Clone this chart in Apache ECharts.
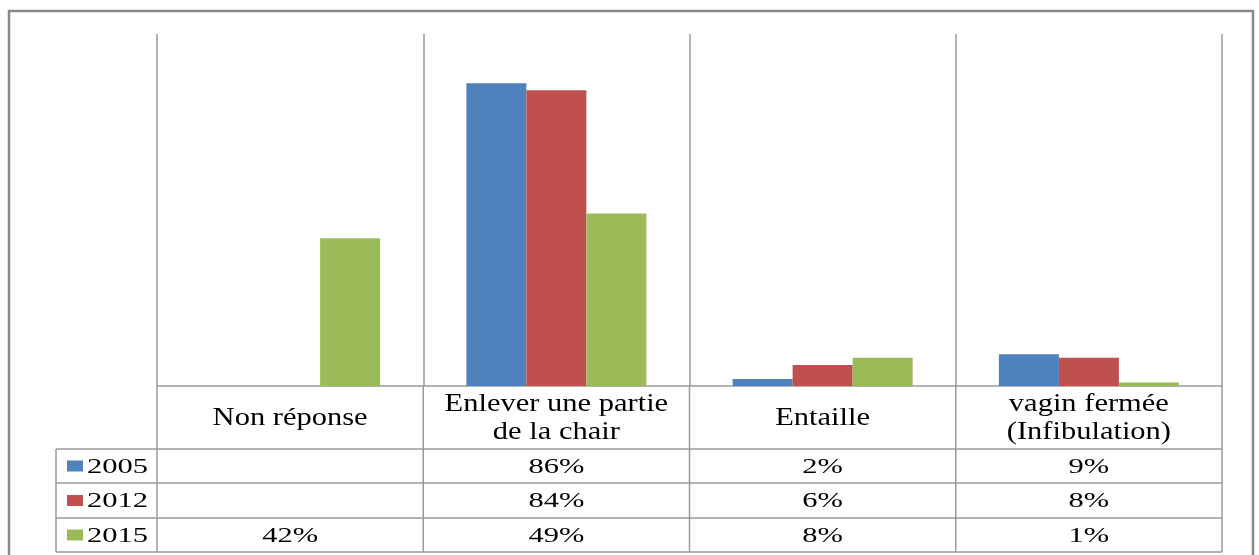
<!DOCTYPE html>
<html>
<head>
<meta charset="utf-8">
<script src="https://cdn.jsdelivr.net/npm/echarts@6/dist/echarts.min.js"></script>
<style>
  html, body { margin: 0; padding: 0; background: #fff; }
  #chart { width: 1259px; height: 555px; }
</style>
</head>
<body>
<div id="chart"></div>
<script>
// Categories (two-line labels use \n)
const categories = ['Non réponse', 'Enlever une partie\nde la chair', 'Entaille', 'vagin fermée\n(Infibulation)'];
// Survey years
const years = ['2005', '2012', '2015'];
// Percentages per year (null = no answer recorded)
const values2005 = [null, 86, 2, 9];
const values2012 = [null, 84, 6, 8];
const values2015 = [42, 49, 8, 1];
const seriesValues = [values2005, values2012, values2015];
const colors = ['#4F81BD', '#C0504D', '#9BBB59'];

const SERIF = '"Liberation Serif", "Times New Roman", serif';
const LINE = '#9a9a9a';

const chart = echarts.init(document.getElementById('chart'), null, { renderer: 'canvas' });

const gridLeft = 157, gridRightEdge = 1222, gridTop = 34, plotBottom = 386;

chart.setOption({
  animation: false,
  backgroundColor: '#fff',
  grid: { left: gridLeft, right: 1259 - gridRightEdge, top: gridTop, bottom: 555 - plotBottom, containLabel: false },
  xAxis: {
    type: 'category',
    data: categories,
    boundaryGap: true,
    axisLine: { show: true, lineStyle: { color: LINE, width: 1.5 } },
    axisTick: { show: false },
    axisLabel: { show: false },
    splitLine: { show: true, lineStyle: { color: LINE, width: 1.5 } }
  },
  yAxis: {
    type: 'value',
    min: 0,
    max: 100,
    show: false,
    splitLine: { show: false }
  },
  series: years.map((y, i) => ({
    name: y,
    type: 'bar',
    data: seriesValues[i],
    barWidth: 60,
    barGap: '0%',
    itemStyle: { color: colors[i] }
  }))
});

// Data table below the plot, plus the outer frame
function buildTable() {
  const g = [];
  const rowLines = [449, 483, 518, 552];
  const legendLeft = 56;
  const boundaries = [];
  for (let i = 0; i <= categories.length; i++) {
    boundaries.push(gridLeft + (gridRightEdge - gridLeft) * i / categories.length);
  }
  const centers = categories.map((c, i) => chart.convertToPixel({ xAxisIndex: 0 }, i));

  // outer frame
  g.push({ type: 'rect', shape: { x: 9, y: 11, width: 1244, height: 620 },
    style: { fill: 'none', stroke: '#8a8a8a', lineWidth: 2.5 }, z: 1 });

  // vertical table lines
  boundaries.forEach(x => {
    g.push({ type: 'line', shape: { x1: x, y1: plotBottom, x2: x, y2: rowLines[3] },
      style: { stroke: LINE, lineWidth: 1.5 }, z: 5 });
  });
  g.push({ type: 'line', shape: { x1: legendLeft, y1: rowLines[0], x2: legendLeft, y2: rowLines[3] },
    style: { stroke: LINE, lineWidth: 1.5 }, z: 5 });
  // horizontal table lines
  rowLines.forEach(y => {
    g.push({ type: 'line', shape: { x1: legendLeft, y1: y, x2: gridRightEdge, y2: y },
      style: { stroke: LINE, lineWidth: 1.5 }, z: 5 });
  });

  // category header row
  const headerMid = (plotBottom + rowLines[0]) / 2;
  categories.forEach((c, i) => {
    g.push({ type: 'text', x: centers[i], y: headerMid + 1, scaleX: 1.22, z: 6,
      style: { text: c, fontFamily: SERIF, fontSize: 25, lineHeight: 28, fill: '#000',
        align: 'center', verticalAlign: 'middle' } });
  });

  // one row per year: legend key + values
  years.forEach((yr, r) => {
    const mid = (rowLines[r] + rowLines[r + 1]) / 2;
    g.push({ type: 'rect', shape: { x: 67, y: mid - 5.5, width: 16, height: 11 },
      style: { fill: colors[r] }, z: 6 });
    g.push({ type: 'text', x: 87, y: mid + 1, scaleX: 1.39, z: 6,
      style: { text: yr, fontFamily: SERIF, fontSize: 22, fill: '#000',
        align: 'left', verticalAlign: 'middle' } });
    seriesValues[r].forEach((v, i) => {
      if (v == null) return;
      g.push({ type: 'text', x: centers[i], y: mid + 1, scaleX: 1.45, z: 6,
        style: { text: v + '%', fontFamily: SERIF, fontSize: 21, fill: '#000',
          align: 'center', verticalAlign: 'middle' } });
    });
  });
  chart.setOption({ graphic: g });
}
buildTable();
</script>
</body>
</html>
